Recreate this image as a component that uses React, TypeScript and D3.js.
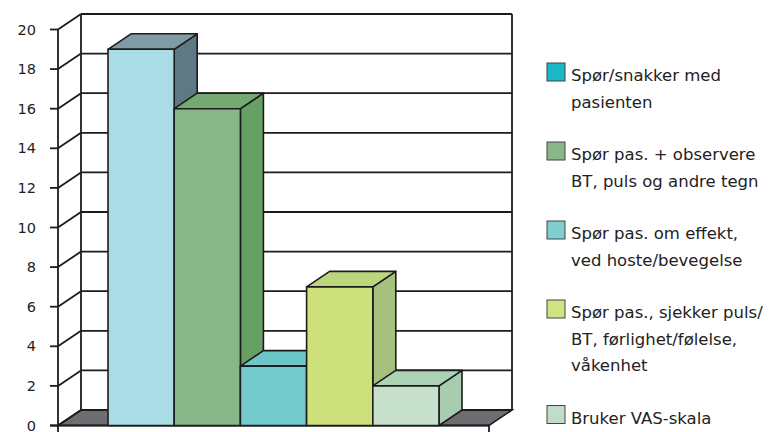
import React from "react";
import * as d3 from "d3";

// Survey answers: how nurses assess pain relief
const seriesLabels: string[][] = [
  ["Spør/snakker med", "pasienten"],
  ["Spør pas. + observere", "BT, puls og andre tegn"],
  ["Spør pas. om effekt,", "ved hoste/bevegelse"],
  ["Spør pas., sjekker puls/", "BT, førlighet/følelse,", "våkenhet"],
  ["Bruker VAS-skala"],
];
const seriesValues: number[] = [19, 16, 3, 7, 2];
const yTicks: number[] = [0, 2, 4, 6, 8, 10, 12, 14, 16, 18, 20];

// Bar shading: front, top, side
const barFront = ["#a9dce4", "#89b688", "#74c9cc", "#cde07c", "#c6e0cc"];
const barTop = ["#7f9ca6", "#74a972", "#6cc5c9", "#bcd67c", "#acd2b4"];
const barSide = ["#5f7984", "#67a065", "#5fb7bb", "#a6c07e", "#a7cdb0"];
const legendColors = ["#1bb8c8", "#8ab68a", "#7fcfcf", "#cfe383", "#c3dcc9"];

const W = 775;
const H = 432;
const DX = 23; // depth offset
const DY = -15.5;
const LINE = "#1c1c1c";
const FONT = "DejaVu Sans, sans-serif";

export default function App() {
  const x0 = 58;
  const x1 = 489;
  const y = d3.scaleLinear().domain([0, 20]).range([425.5, 29.5]);
  const x = d3
    .scaleBand<number>()
    .domain(d3.range(seriesValues.length))
    .range([108, 439])
    .padding(0);
  const bw = x.bandwidth();
  const y0 = y(0);

  const poly = (pts: [number, number][]) => pts.map((p) => p.join(",")).join(" ");

  // Floor parallelogram
  const floor = poly([
    [x0, y0],
    [x1, y0],
    [x1 + DX, y0 + DY],
    [x0 + DX, y0 + DY],
  ]);

  const legendX = 547;
  const textX = 571;
  const lineH = 26.5;
  const gap = 52.5;
  let cursor = 81;
  const legendRows = seriesLabels.map((lines, i) => {
    const base = cursor;
    cursor += (lines.length - 1) * lineH + gap;
    return { lines, base, color: legendColors[i] };
  });

  return (
    <svg
      width={W}
      height={H}
      style={{ position: "absolute", left: 0, top: 0, background: "#fff" }}
      fontFamily={FONT}
    >
      <rect width={W} height={H} fill="#fff" />
      {/* floor */}
      <polygon points={floor} fill="#6e6e72" stroke={LINE} strokeWidth={1.6} />
      {/* back wall gridlines and left wall diagonals */}
      {yTicks.map((t) => (
        <g key={t}>
          <line
            x1={x0 + DX}
            x2={x1 + DX}
            y1={y(t) + DY}
            y2={y(t) + DY}
            stroke={LINE}
            strokeWidth={1.8}
          />
          <line
            x1={x0}
            x2={x0 + DX}
            y1={y(t)}
            y2={y(t) + DY}
            stroke={LINE}
            strokeWidth={1.8}
          />
          <line x1={x0 - 8} x2={x0} y1={y(t)} y2={y(t)} stroke={LINE} strokeWidth={1.8} />
          <text
            x={36}
            y={y(t) + 1}
            textAnchor="end"
            dominantBaseline="middle"
            fontSize={14.5}
            fill="#1e1e1e"
          >
            {t}
          </text>
        </g>
      ))}
      {/* wall frame */}
      <line x1={x0 + DX} x2={x0 + DX} y1={y(20) + DY} y2={y0 + DY} stroke={LINE} strokeWidth={1.8} />
      <line x1={x1 + DX} x2={x1 + DX} y1={y(20) + DY} y2={y0 + DY} stroke={LINE} strokeWidth={1.8} />
      <line x1={x0} x2={x0} y1={y(20)} y2={H} stroke={LINE} strokeWidth={1.8} />
      <line x1={x0 - 8} x2={x1} y1={y0} y2={y0} stroke={LINE} strokeWidth={1.8} />
      <line x1={x1} x2={x1} y1={y0} y2={H} stroke={LINE} strokeWidth={1.8} />
      {/* bars */}
      {seriesValues.map((v, i) => {
        const L = x(i)!;
        const R = L + bw;
        const T = y(v);
        return (
          <g key={i} stroke={LINE} strokeWidth={1.6} strokeLinejoin="round">
            <polygon
              points={poly([
                [R, T],
                [R + DX, T + DY],
                [R + DX, y0 + DY],
                [R, y0],
              ])}
              fill={barSide[i]}
            />
            <polygon
              points={poly([
                [L, T],
                [R, T],
                [R + DX, T + DY],
                [L + DX, T + DY],
              ])}
              fill={barTop[i]}
            />
            <rect x={L} y={T} width={bw} height={y0 - T} fill={barFront[i]} />
          </g>
        );
      })}
      {/* legend */}
      {legendRows.map((r, i) => (
        <g key={i}>
          <rect
            x={legendX}
            y={r.base - 18}
            width={18}
            height={18}
            fill={r.color}
            stroke="#444"
            strokeWidth={1}
          />
          {r.lines.map((ln, j) => (
            <text key={j} x={textX} y={r.base + j * lineH} fontSize={16.5} fill="#222">
              {ln}
            </text>
          ))}
        </g>
      ))}
    </svg>
  );
}
